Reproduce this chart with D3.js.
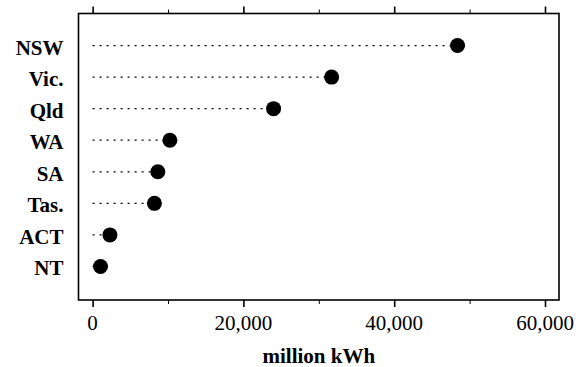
<!DOCTYPE html>
<html>
<head>
<meta charset="utf-8">
<script src="https://cdn.jsdelivr.net/npm/d3@7"></script>
</head>
<body style="margin:0">
<script>
// states and electricity use, million kWh
var states = ["NSW", "Vic.", "Qld", "WA", "SA", "Tas.", "ACT", "NT"];
var usage = [48400, 31700, 24000, 10250, 8650, 8200, 2300, 1050];
var tickValues = [0, 20000, 40000, 60000];
var minorTicks = [10000, 30000, 50000];

var dataset = states.map((s, i) => [s, usage[i]]);

const w = 579;
const h = 367;
const boxLeft = 78.5, boxRight = 559, boxTop = 13.5, boxBottom = 300;
const serif = "'Liberation Serif'";

const svg = d3.select("body")
    .append("svg")
    .attr("width", w)
    .attr("height", h);

const g = svg.append("g");

const xScale = d3.scaleLinear()
    .domain([0, 60000])
    .range([92.6, 545]);

const yScale = d3.scalePoint()
    .domain(states)
    .range([14, 298])
    .padding(1);

// box
g.append("rect")
    .attr("x", boxLeft)
    .attr("y", boxTop)
    .attr("width", boxRight - boxLeft)
    .attr("height", boxBottom - boxTop)
    .attr("fill", "none")
    .attr("stroke", "#000")
    .attr("stroke-width", 1.6);

// bottom ticks
const gx = g.append("g")
    .attr("transform", "translate(0," + boxBottom + ")")
    .call(d3.axisBottom(xScale).tickValues(tickValues).tickSize(7).tickFormat(""));
gx.select(".domain").remove();
gx.selectAll("line").attr("stroke-width", 1.6);

// tick labels
g.selectAll(".tl")
    .data(tickValues)
    .enter()
    .append("text")
    .attr("class", "tl")
    .attr("x", (d) => xScale(d))
    .attr("y", boxBottom + 30)
    .attr("text-anchor", "middle")
    .attr("font-family", serif)
    .attr("font-size", 21)
    .text(d3.format(","));

// small ticks in between
g.append("g")
    .attr("transform", "translate(0," + boxBottom + ")")
    .call(d3.axisBottom(xScale).tickValues(minorTicks).tickSize(4).tickFormat(""))
    .call(a => a.select(".domain").remove());

// top ticks, pointing up
g.append("g")
    .attr("transform", "translate(0," + boxTop + ")")
    .call(d3.axisTop(xScale).tickValues(tickValues).tickSize(7).tickFormat(""))
    .call(a => a.select(".domain").remove())
    .selectAll("line").attr("stroke-width", 1.6);
g.append("g")
    .attr("transform", "translate(0," + boxTop + ")")
    .call(d3.axisTop(xScale).tickValues(minorTicks).tickSize(4).tickFormat(""))
    .call(a => a.select(".domain").remove());

// dotted leader lines
g.selectAll(".lead")
    .data(dataset)
    .enter()
    .append("line")
    .attr("class", "lead")
    .attr("x1", xScale(0))
    .attr("x2", (d) => xScale(d[1]))
    .attr("y1", (d) => yScale(d[0]))
    .attr("y2", (d) => yScale(d[0]))
    .attr("stroke", "#000")
    .attr("stroke-width", 1.3)
    .attr("stroke-dasharray", "2,5");

// dots
g.selectAll(".dot")
    .data(dataset)
    .enter()
    .append("circle")
    .attr("class", "dot")
    .attr("cx", (d) => xScale(d[1]))
    .attr("cy", (d) => yScale(d[0]))
    .attr("r", 7.5)
    .attr("fill", "#000");

// state names
g.selectAll(".lab")
    .data(dataset)
    .enter()
    .append("text")
    .attr("class", "lab")
    .attr("x", 63.5)
    .attr("y", (d) => yScale(d[0]) + 9)
    .attr("text-anchor", "end")
    .attr("font-family", serif)
    .attr("font-size", 21)
    .attr("font-weight", "bold")
    .text((d) => d[0]);

// axis title
g.append("text")
    .attr("x", (xScale.range()[0] + xScale.range()[1]) / 2)
    .attr("y", 363)
    .attr("text-anchor", "middle")
    .attr("font-family", serif)
    .attr("font-size", 21)
    .attr("font-weight", "bold")
    .text("million kWh");
</script>
</body>
</html>
